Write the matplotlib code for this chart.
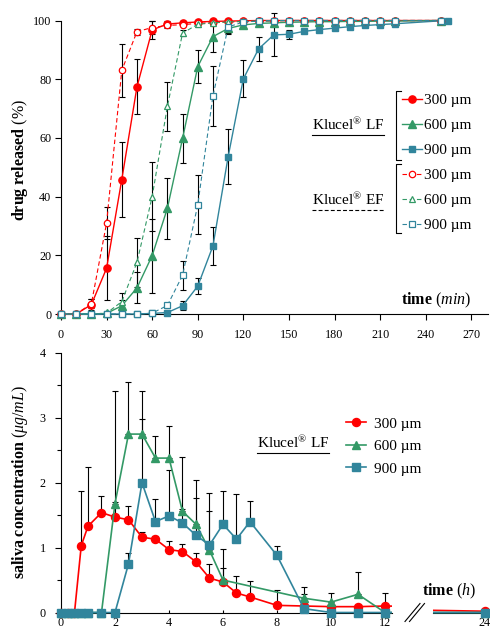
import matplotlib
matplotlib.use("Agg")
import matplotlib.pyplot as plt
from matplotlib.lines import Line2D
from matplotlib.transforms import Bbox, TransformedBbox

plt.rcParams["font.family"] = ["Liberation Serif", "DejaVu Serif"]
plt.rcParams["mathtext.fontset"] = "custom"
plt.rcParams["mathtext.rm"] = "Liberation Serif"
plt.rcParams["mathtext.it"] = "Liberation Serif:italic"
plt.rcParams["mathtext.bf"] = "Liberation Serif:bold"

# ---------------- in vitro release (min, %) ----------------
t_min = [0, 10, 20, 30, 40, 50, 60, 70, 80, 90, 100, 110, 120, 130, 140,
         150, 160, 170, 180, 190, 200, 210, 220, 250]
t_min_900lf = t_min + [255]

lf300 = [0, 0, 3.2, 15.6, 45.8, 77.4, 96.8, 98.8, 99.2, 99.5, 99.7, 99.8, 99.9,
         100, 100, 100, 100, 100, 100, 100, 100, 100, 100, 100]
lf300_sd = [0, 0, 2.0, 11.0, 12.8, 9.4, 3.2, 1.0, 0.8, 0.5, 0.3, 0.3, 0.3,
            0, 0, 0, 0, 0, 0, 0, 0, 0, 0, 0]
lf600 = [0, 0, 0, 0.2, 2.8, 8.9, 19.9, 36.0, 59.8, 84.3, 94.5, 97.3, 98.5,
         99.0, 99.2, 99.4, 99.5, 99.6, 99.6, 99.7, 99.7, 99.8, 99.8, 100]
lf600_sd = [0, 0, 0, 0.3, 2.0, 5.3, 12.6, 10.5, 8.5, 5.6, 5.3, 2.0, 1.0,
            0.5, 0.3, 0.3, 0, 0, 0, 0, 0, 0, 0, 0]
lf900 = [0, 0, 0, 0, 0, 0, 0.2, 0.5, 2.8, 9.5, 23.2, 53.6, 80.1, 90.3, 95.1,
         95.3, 96.3, 96.9, 97.4, 97.9, 98.3, 98.6, 98.9, 99.9, 100]
lf900_sd = [0, 0, 0, 0, 0, 0, 0.2, 0.4, 1.5, 2.8, 6.5, 9.4, 6.3, 4.2, 7.3,
            1.5, 0.5, 0.3, 0.3, 0, 0, 0, 0, 0, 0]

ef300 = [0, 0, 3.5, 31.0, 83.0, 96.2, 97.6, 98.3, 98.6, 99.0, 99.3, 99.5, 99.7,
         99.8, 99.9, 100, 100, 100, 100, 100, 100, 100, 100, 100]
ef300_sd = [0, 0, 1.5, 5.4, 9.0, 1.0, 2.3, 0.8, 0.5, 0.3, 0, 0, 0,
            0, 0, 0, 0, 0, 0, 0, 0, 0, 0, 0]
ef600 = [0, 0, 0, 0.3, 4.2, 17.6, 40.0, 70.7, 95.7, 98.7, 99.2, 99.5, 99.7,
         99.8, 99.9, 100, 100, 100, 100, 100, 100, 100, 100, 100]
ef600_sd = [0, 0, 0, 0.3, 3.0, 8.3, 11.8, 8.4, 1.0, 1.0, 0.5, 0.3, 0,
            0, 0, 0, 0, 0, 0, 0, 0, 0, 0, 0]
ef900 = [0, 0, 0, 0, 0, 0, 0.3, 2.9, 13.2, 37.2, 74.3, 97.8, 99.5,
         99.8, 100, 100, 100, 100, 100, 100, 100, 100, 100, 100]
ef900_sd = [0, 0, 0, 0, 0, 0, 0.3, 1.0, 5.0, 10.0, 10.2, 2.0, 0.5,
            0, 0, 0, 0, 0, 0, 0, 0, 0, 0, 0]

# ---------------- saliva concentration (h, ug/mL) ----------------
t_h = [0, 0.25, 0.5, 0.75, 1, 1.5, 2, 2.5, 3, 3.5, 4, 4.5, 5, 5.5, 6, 6.5, 7,
       8, 9, 10, 11, 12, 24]
sal300 = [0, 0, 0, 1.03, 1.33, 1.54, 1.47, 1.43, 1.16, 1.13, 0.97, 0.94, 0.78,
          0.53, 0.47, 0.30, 0.24, 0.11, 0.10, 0.09, 0.09, 0.10, 0.02]
sal300_sd = [0, 0, 0, 0.84, 0.91, 0.26, 0.24, 0.21, 0.08, 0.05, 0.13, 0.11, 0.13,
             0.22, 0.21, 0.26, 0.25, 0.24, 0.18, 0.0, 0.0, 0.20, 0]
t_h_600 = [0, 0.25, 0.5, 0.75, 1, 1.5, 2, 2.5, 3, 3.5, 4, 4.5, 5, 5.5, 6,
           9, 10, 11, 12, 24]
sal600 = [0, 0, 0, 0, 0, 0, 1.68, 2.75, 2.75, 2.38, 2.38, 1.56, 1.36, 0.96, 0.50,
          0.22, 0.16, 0.28, 0, 0]
sal600_sd = [0, 0, 0, 0, 0, 0, 1.73, 0.81, 0.66, 0.34, 0.49, 0.83, 0.69, 0.88, 0.48,
             0.17, 0.14, 0.34, 0, 0]
sal900 = [0, 0, 0, 0, 0, 0, 0, 0.75, 2.00, 1.40, 1.49, 1.38, 1.19, 1.04, 1.36,
          1.13, 1.40, 0.88, 0.06, 0, 0, 0, 0]
sal900_sd = [0, 0, 0, 0, 0, 0, 0, 0.17, 0.98, 0.35, 0.70, 0.22, 0.58, 0.53, 0.52,
             0.69, 0.32, 0.14, 0, 0, 0, 0, 0]

sizes = ["300 µm", "600 µm", "900 µm"]
RED, GREEN, TEAL = "#FF0000", "#339966", "#31859C"

W, H = 490, 631
fig = plt.figure(figsize=(W / 100, H / 100), dpi=100)


def fx(x):
    return x / W


def fy(y):
    return 1 - y / H


def axes_px(x0, x1, ytop, ybot):
    return fig.add_axes([fx(x0), fy(ybot), fx(x1) - fx(x0), (ybot - ytop) / H])


TICK_FS = 8.7
LAB_FS = 11.5
LEG_FS = 11

# ================= release profile =================
ax1 = axes_px(61, 488, 20.5, 314)
ax1.set_xlim(0, 281)
ax1.set_ylim(0, 100)

series_top = [
    (t_min, lf300, lf300_sd, RED, "o", True),
    (t_min, lf600, lf600_sd, GREEN, "^", True),
    (t_min_900lf, lf900, lf900_sd, TEAL, "s", True),
    (t_min, ef300, ef300_sd, RED, "o", False),
    (t_min, ef600, ef600_sd, GREEN, "^", False),
    (t_min, ef900, ef900_sd, TEAL, "s", False),
]
msize = {"o": 5.2, "^": 5.4, "s": 4.8}
handles_lf, handles_ef = [], []
for t, y, sd, c, m, solid in series_top:
    ax1.errorbar(t, y, yerr=sd, fmt="none", ecolor="black", elinewidth=0.8,
                 capsize=2, capthick=0.8, zorder=2, clip_on=False)
for t, y, sd, c, m, solid in series_top:
    if solid:
        ln, = ax1.plot(t, y, color=c, lw=1.0, marker=m, ms=msize[m], mfc=c,
                       mec=c, zorder=3, clip_on=False)
        handles_lf.append(ln)
    else:
        ln, = ax1.plot(t, y, color=c, lw=0.8, ls=(0, (4, 2.5)), marker=m,
                       ms=msize[m] - 0.6, mfc="white", mec=c, mew=0.9,
                       zorder=4, clip_on=False)
        handles_ef.append(ln)

ax1.set_xticks([0, 30, 60, 90, 120, 150, 180, 210, 240, 270])
ax1.set_yticks([0, 20, 40, 60, 80, 100])
ax1.tick_params(axis="x", direction="out", length=4, width=0.8, pad=7,
                labelsize=TICK_FS)
ax1.tick_params(axis="y", direction="out", length=4, width=0.8, pad=3,
                labelsize=TICK_FS)
for s in ("top", "right"):
    ax1.spines[s].set_visible(False)
for s in ("left", "bottom"):
    ax1.spines[s].set_linewidth(0.8)

fig.text(fx(20), fy(160), r"$\mathbf{drug\ released}$ $\mathit{(\%)}$",
         rotation=90, ha="center", va="center", fontsize=LAB_FS)
fig.text(fx(471), fy(300), r"$\mathbf{time}$ $\mathit{(min)}$",
         ha="right", va="center", fontsize=LAB_FS)

leg_kw = dict(frameon=False, fontsize=LEG_FS, handlelength=1.3,
              handletextpad=0.15, labelspacing=0.74, borderpad=0,
              borderaxespad=0, numpoints=1, loc="upper left",
              bbox_transform=fig.transFigure)
leg1 = ax1.legend(handles_lf, sizes, bbox_to_anchor=(fx(402), fy(93.5)), **leg_kw)
ax1.add_artist(leg1)
# second legend becomes the axes' own legend (drawn once)
ax1.legend(handles_ef, sizes, bbox_to_anchor=(fx(402), fy(168.5)), **leg_kw)

t_lf = fig.text(fx(384), fy(125), r"Klucel$^{\mathrm{®}}$ LF", ha="right",
                va="center", fontsize=LEG_FS)
t_ef = fig.text(fx(384), fy(200), r"Klucel$^{\mathrm{®}}$ EF", ha="right",
                va="center", fontsize=LEG_FS)

# brackets grouping the two legend blocks
for ytop, ybot in ((91, 160), (164, 233)):
    xs = [fx(401), fx(396), fx(396), fx(401)]
    ys = [fy(ytop), fy(ytop), fy(ybot), fy(ybot)]
    fig.add_artist(Line2D(xs, ys, color="black", lw=0.8,
                          transform=fig.transFigure))

# ================= saliva concentration =================
ax2 = axes_px(61, 392, 353, 612.5)
ax2.set_xlim(0, 12.26)
ax2.set_ylim(0, 4)
ax3 = axes_px(433, 490, 353, 612.5)
ax3.set_xlim(22, 24.2)
ax3.set_ylim(0, 4)

series_bot = [
    (t_h, sal300, sal300_sd, RED, "o"),
    (t_h_600, sal600, sal600_sd, GREEN, "^"),
    (t_h, sal900, sal900_sd, TEAL, "s"),
]
# clip horizontally at each panel's x-range, but let markers on the
# baseline (and at t = 0) show in full
clip_boxes = {ax2: Bbox([[-0.05, -0.05], [1.0, 1.05]]),
              ax3: Bbox([[0.0, -0.05], [1.2, 1.05]])}
handles_bot = []
for ax in (ax2, ax3):
    cb = TransformedBbox(clip_boxes[ax], ax.transAxes)
    for t, y, sd, c, m in series_bot:
        ax.errorbar(t, y, yerr=[[0] * len(sd), sd], fmt="none",
                    ecolor="black", elinewidth=0.8, capsize=2.2,
                    capthick=0.8, zorder=2)
    for t, y, sd, c, m in series_bot:
        ln, = ax.plot(t, y, color=c, lw=1.2, marker=m, ms=msize[m] + 0.6,
                      mfc=c, mec=c, zorder=3)
        ln.set_clip_box(cb)
        if ax is ax2:
            handles_bot.append(ln)

ax2.set_xticks([0, 2, 4, 6, 8, 10, 12])
ax2.set_yticks([0, 1, 2, 3, 4])
ax2.set_yticks([0.5, 1.5, 2.5, 3.5], minor=True)
ax2.tick_params(axis="x", direction="in", length=2.5, width=0.8, pad=3,
                labelsize=TICK_FS)
ax2.tick_params(axis="y", which="major", direction="out", length=4, width=0.8,
                pad=7, labelsize=TICK_FS)
ax2.tick_params(axis="y", which="minor", direction="out", length=3, width=0.8)
for s in ("top", "right"):
    ax2.spines[s].set_visible(False)
for s in ("left", "bottom"):
    ax2.spines[s].set_linewidth(0.8)

ax3.set_xticks([24])
ax3.set_yticks([])
ax3.tick_params(axis="x", direction="in", length=2.5, width=0.8, pad=3,
                labelsize=TICK_FS)
for s in ("top", "right", "left"):
    ax3.spines[s].set_visible(False)
ax3.spines["bottom"].set_linewidth(0.8)

# axis-break marks
for dx in (0, 4.5):
    fig.add_artist(Line2D([fx(405 + dx), fx(420 + dx)], [fy(621.5), fy(603.5)],
                          color="black", lw=0.8, transform=fig.transFigure))

fig.text(fx(20), fy(482),
         r"$\mathbf{saliva\ concentration}$ $\mathit{(\mu g/mL)}$",
         rotation=90, ha="center", va="center", fontsize=LAB_FS)
fig.text(fx(476), fy(591), r"$\mathbf{time}$ $\mathit{(h)}$",
         ha="right", va="center", fontsize=LAB_FS)

leg_kw2 = dict(leg_kw)
leg_kw2.update(handletextpad=0.5, labelspacing=0.58)
ax2.legend(handles_bot, sizes, bbox_to_anchor=(fx(346), fy(417)), **leg_kw2)

t_lf2 = fig.text(fx(329), fy(443), r"Klucel$^{\mathrm{®}}$ LF", ha="right",
                 va="center", fontsize=LEG_FS)

# underline the formulation names
fig.canvas.draw()
rend = fig.canvas.get_renderer()
for txt, style in ((t_lf, "-"), (t_ef, (0, (3.5, 2))), (t_lf2, "-")):
    bb = txt.get_window_extent(rend)
    yline = bb.y0 - 1.5
    fig.add_artist(Line2D([bb.x0 / W, bb.x1 / W], [yline / H, yline / H],
                          color="black", lw=0.8, ls=style,
                          transform=fig.transFigure))

fig.savefig("out.png", dpi=100)
